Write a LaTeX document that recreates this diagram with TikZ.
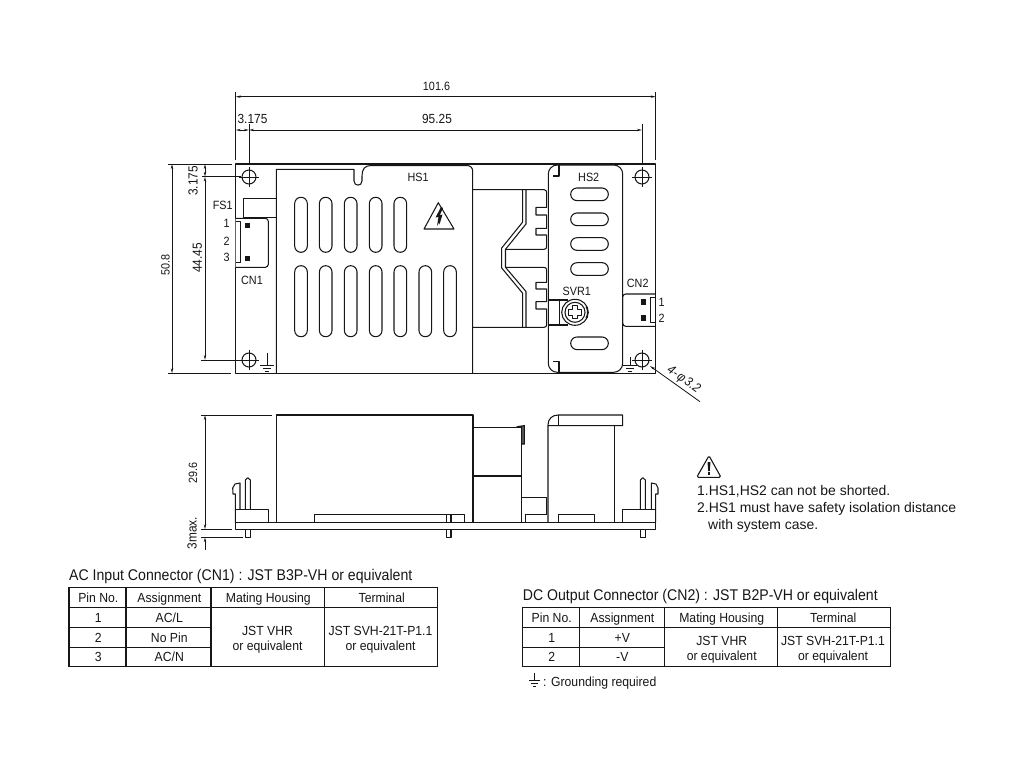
\documentclass[tikz,border=0pt]{standalone}
\usepackage{fontspec}
\setmainfont{Liberation Sans}
\newfontfamily\nar[FakeStretch=0.9]{Liberation Sans}
\newfontfamily\cellf[FakeStretch=0.925]{Liberation Sans}
\newfontfamily\wide[FakeStretch=0.91]{Liberation Sans}
\usetikzlibrary{arrows.meta}
\definecolor{ink}{HTML}{161616}
\tikzset{
  part/.style={draw=ink,line width=1.05pt,line join=round},
  thin part/.style={draw=ink,line width=0.85pt},
  dim/.style={draw=ink,line width=0.8pt},
  dimarrow/.style={dim,{Stealth[length=5pt,width=2.4pt]}-{Stealth[length=5pt,width=2.4pt]}},
  leader/.style={dim,{Stealth[length=5pt,width=2.4pt]}-},
  lab/.style={inner sep=0pt,text=ink,font=\nar\fontsize{12}{14}\selectfont},
  biglab/.style={lab,font=\nar\fontsize{13.2}{15}\selectfont},
  cell/.style={inner sep=0pt,text=ink,text height=9.5pt,text depth=0pt,font=\cellf\fontsize{13.2}{15}\selectfont},
  multicell/.style={inner sep=0pt,text=ink,align=center,font=\cellf\fontsize{13.2}{14.8}\selectfont},
  tabletitle/.style={inner sep=0pt,anchor=west,text=ink,font=\wide\fontsize{15.5}{17}\selectfont},
  note/.style={inner sep=0pt,anchor=west,text=ink,font=\fontsize{13.95}{16}\selectfont},
  grid/.style={draw=ink,line width=1.05pt},
  pinsq/.style={fill=ink,draw=none},
}
\newcommand\vslot[3]{\draw[part,rounded corners=6.2pt] (#1-6.3,#2) rectangle (#1+6.3,#3);}
\newcommand\hslot[1]{\draw[part,rounded corners=6.2pt] (570.7,#1-6.3) rectangle (608.3,#1+6.3);}
\newcommand\hole[2]{%
  \draw[part] (#1,#2) circle (7);
  \draw[thin part] (#1-10,#2) -- (#1+10,#2) (#1,#2-10) -- (#1,#2+10);
}
\newcommand\earth[4]{% x, top, bar y, half width
  \draw[thin part] (#1,#2) -- (#1,#3);
  \draw[thin part] (#1-#4,#3) -- (#1+#4,#3);
  \draw[thin part] (#1-#4*0.6,#3+3) -- (#1+#4*0.6,#3+3);
  \draw[thin part] (#1-#4*0.3,#3+6) -- (#1+#4*0.3,#3+6);
}
\newcommand\pinbox[2]{\fill[pinsq] (#1-2.6,#2-2.6) rectangle (#1+2.6,#2+2.6);}
\begin{document}
\begin{tikzpicture}[x=1pt,y=-1pt]
\useasboundingbox (0,0) rectangle (1024,768);
% ---------- top view: board
\draw[part] (235.7,164) rectangle (655.7,373.3);
\draw[draw=ink,line width=1.5pt] (598,373.3) -- (655.7,373.3);
\draw[draw=ink,line width=1.4pt] (276.3,373.3) -- (472.7,373.3);
% holes
\hole{249}{177}\hole{249}{360}\hole{642}{177}\hole{642}{360}
\earth{267}{352.7}{365}{7}
\earth{630}{357.3}{365}{7}
% HS1
\draw[part] (276.3,373.3) -- (276.3,169.3) -- (354,169.3) -- (354,181)
  .. controls (354,186.5) and (362,186.5) .. (362,181) -- (362,176)
  .. controls (362,169) and (365,165.5) .. (371,165.5) -- (466.7,165.5)
  .. controls (470.5,165.5) and (472.7,167.7) .. (472.7,171.5) -- (472.7,373.3);
\foreach \cx in {301,325.7,350.7,375.7,400.3} {\vslot{\cx}{197.3}{252.3}}
\foreach \cx in {301,325.7,350.7,375.7,400.3,425.3,450} {\vslot{\cx}{265.7}{336.7}}
% warning triangle
\draw[part] (438.3,202.7) -- (454,229) -- (424,229) -- cycle;
\fill[ink] (441,207) -- (435.5,217.5) -- (438.5,217) -- (437,226) -- (439,222.5) -- (439.5,224.5) -- (442.5,214.5) -- (439.8,215.2) -- (443,208) -- cycle;
% FS1 + CN1
\draw[part] (276.3,198.3) -- (243.3,198.3) -- (243.3,217.3) -- (276.3,217.3);
\draw[part,rounded corners=3pt,fill=white] (235.7,218.3) -- (268.3,218.3) -- (268.3,267.3) -- (235.7,267.3);
\draw[part] (235.7,221.7) -- (240.7,221.7) -- (240.7,262.7) -- (235.7,262.7);
\pinbox{247.7}{225.7}\pinbox{247.7}{258.7}
% heatsink bridge
\draw[part] (472.7,189.7) -- (544,189.7) .. controls (546,189.7) and (546.7,191) .. (546.7,193)
  -- (546.7,207.3) -- (536,207.3) -- (536,215) -- (546.7,215) -- (546.7,228.3) -- (536,228.3)
  -- (536,235) -- (546.7,235) -- (546.7,246) .. controls (546.7,248.5) and (546,249.3) .. (544,249.3) -- (505.5,249.3);
\draw[part] (505.5,267.3) -- (544,267.3) .. controls (546,267.3) and (546.7,268.5) .. (546.7,270.5)
  -- (546.7,282.3) -- (536,282.3) -- (536,289) -- (546.7,289) -- (546.7,301.7) -- (536,301.7)
  -- (536,309) -- (546.7,309) -- (546.7,324) .. controls (546.7,326.5) and (546,327.3) .. (544,327.3) -- (472.7,327.3);
\draw[part] (522.7,189.7) -- (522.7,222) -- (501.7,248) -- (501.7,268) -- (522.7,293.3) -- (522.7,327.3);
\draw[part] (526,189.7) -- (526,224) -- (505.5,249.3) -- (505.5,267.3) -- (526,291.5) -- (526,327.3);
% HS2
\draw[part,rounded corners=9pt,fill=white] (548.3,165) rectangle (622.7,372.3);
\draw[part] (553,176) -- (559,176) -- (559,165);
\draw[part] (553,361.7) -- (559,361.7) -- (559,372.3);
\foreach \cy in {194.3,219.3,244,269,343.3} {\hslot{\cy}}
% SVR1
\draw[part] (548.3,300) -- (568,300);
\draw[part] (548.3,325) -- (568,325);
\draw[part] (559.3,300) -- (559.3,325);
\draw[part,fill=white] (575,312.3) ellipse (13.3 and 13);
\draw[part] (575,312.3) circle (10);
\draw[part] (586,306.5) arc[start angle=-30,end angle=30,radius=11.5];
\draw[part] (572.2,305.8) -- (577.8,305.8) -- (577.8,309.5) -- (581.5,309.5) -- (581.5,315.1)
  -- (577.8,315.1) -- (577.8,318.8) -- (572.2,318.8) -- (572.2,315.1) -- (568.5,315.1)
  -- (568.5,309.5) -- (572.2,309.5) -- cycle;
% CN2
\draw[part,rounded corners=3pt] (655.7,294) -- (622.7,294) -- (622.7,326.3) -- (655.7,326.3);
\draw[part] (655.7,297.3) -- (650.3,297.3) -- (650.3,322.3) -- (655.7,322.3);
\pinbox{643.3}{302}\pinbox{643.3}{318}
% ---------- top view dimensions
\coordinate (boardL) at (235.7,92);
\coordinate (boardLb) at (235.7,160);
\coordinate (boardR) at (655.7,92);
\coordinate (boardRb) at (655.7,160);
\coordinate (holeL) at (249,124);
\coordinate (holeLb) at (249,164);
\coordinate (holeR) at (642,124);
\coordinate (holeRb) at (642,164);
\draw[dim] (boardL) -- (boardLb);
\draw[dim] (boardR) -- (boardRb);
\draw[dim] (holeL) -- (holeLb);
\draw[dim] (holeR) -- (holeRb);
\draw[dimarrow] (235.7,96.7) -- (655.7,96.7);
\draw[dimarrow] (235.7,130) -- (249,130);
\draw[dimarrow] (249,130) -- (642,130);
\node[lab] (d1016) at (436.5,86) {101.6};
\node[biglab] (d9525) at (437,118.5) {95.25};
\node[biglab] (d3175h) at (252.5,118.5) {3.175};
\draw[dim] (168,164) -- (232,164);
\draw[dim] (168,373.3) -- (231,373.3);
\draw[dim] (202,176.7) -- (241,176.7);
\draw[dim] (201,360) -- (241,360);
\draw[dimarrow] (172,164) -- (172,373.3);
\draw[dimarrow] (205,164) -- (205,176.7);
\draw[dimarrow] (205,176.7) -- (205,360);
\node[lab,rotate=90] (d508) at (165.5,265) {50.8};
\node[biglab,rotate=90] (d4445) at (197.5,258) {44.45};
\node[biglab,rotate=90] (d3175v) at (193,181) {3.175};
% leader
\coordinate (leadA) at (650,366);
\coordinate (leadB) at (700,401.7);
\draw[leader] (leadA) -- (leadB);
\node[lab,rotate=-35.5,font=\nar\itshape\fontsize{13}{14}\selectfont] (dia) at (683.5,380) {4-\kern1.5ptφ\kern1.5pt3.2};
% part labels
\node[lab] (fs1) at (222.7,205.7) {FS1};
\node[lab] (cn1) at (252,280) {CN1};
\node[lab] (p1) at (226.7,223.5) {1};
\node[lab] (p2) at (226.7,241.5) {2};
\node[lab] (p3) at (226.7,257.5) {3};
\node[lab] (hs1) at (418,177.7) {HS1};
\node[lab] (hs2) at (588.7,177.7) {HS2};
\node[lab] (svr1) at (576.7,291.7) {SVR1};
\node[lab] (cn2) at (637.7,283) {CN2};
\node[lab] (q1) at (661.7,302.7) {1};
\node[lab] (q2) at (661.7,318.7) {2};
% ---------- side view
\draw[part] (235.3,522.7) rectangle (655.7,529.3);
% HS1 body
\draw[part] (276.7,522.7) -- (276.7,415) -- (473,415) -- (473,522.7);
\draw[part] (314.3,522.7) -- (314.3,514.3) -- (464.7,514.3) -- (464.7,522.7);
\draw[part] (446.7,514.3) -- (446.7,522.7) (451,514.3) -- (451,522.7);
\draw[part] (446.7,529.3) -- (446.7,537.3) -- (451,537.3) -- (451,529.3);
% middle
\draw[part] (473,427.7) -- (521.7,427.7) -- (521.7,522.7);
\draw[part] (473,476) -- (521.7,476);
\draw[draw=ink,line width=1.2pt,fill=ink!60] (518.5,426.5) -- (524.3,425.7) -- (524.3,444) -- (521.7,444) -- (521.7,427.7) -- cycle;
\draw[part] (521.7,497.7) -- (546.7,497.7) -- (546.7,514.3);
\draw[part] (525.3,522.7) -- (525.3,514.3) -- (546.7,514.3);
% HS2 side
\draw[part] (548,522.7) -- (548,425) .. controls (548,419) and (552,415) .. (558.3,415) -- (622.7,415) -- (622.7,425.7) -- (548,425.7);
\draw[part] (558.3,415) -- (558.3,425.7);
\draw[part] (614.3,425.7) -- (614.3,522.7);
\draw[part] (558.7,522.7) -- (558.7,514.3) -- (594.7,514.3) -- (594.7,522.7);
% left connector
\draw[part] (235.3,522.7) -- (235.3,494) -- (233,494) -- (232.7,488) -- (235,484) -- (240,483) -- (240,509.3);
\draw[part] (235.3,509.3) -- (268.7,509.3) -- (268.7,522.7);
\draw[part] (245.3,509.3) -- (245.3,480) -- (247.8,477.7) -- (250.3,480) -- (250.3,509.3);
\draw[part] (245.3,529.3) -- (245.3,537.3) -- (250.3,537.3) -- (250.3,529.3);
% right connector
\draw[part] (655.7,522.7) -- (655.7,494) -- (658,494) -- (658,488) -- (656,484) -- (651.3,483) -- (651.3,509.3);
\draw[part] (655.7,509.3) -- (622.7,509.3) -- (622.7,522.7);
\draw[part] (640.3,509.3) -- (640.3,480) -- (642.8,477.7) -- (645.3,480) -- (645.3,509.3);
\draw[part] (640.3,529.3) -- (640.3,537.3) -- (645.3,537.3) -- (645.3,529.3);
% side dimensions
\draw[dim] (201,415) -- (271.7,415);
\draw[dim] (201,529.3) -- (231.7,529.3);
\draw[dim] (201,537.3) -- (242.7,537.3);
\draw[dimarrow] (205,415) -- (205,529.3);
\draw[dim,{Stealth[length=5pt,width=2.4pt]}-] (205,537.3) -- (205,550);
\node[lab,rotate=90] (d296) at (193,473) {29.6};
\node[biglab,rotate=90] (d3max) at (192,533) {3max.};
% ---------- notes
\draw[part,rounded corners=1.5pt,line width=1.1pt] (709,455.7) -- (721,477.3) -- (696.7,477.3) -- cycle;
\fill[ink] (707.5,462) -- (710.5,462) -- (709.8,471) -- (708.2,471) -- cycle;
\fill[ink] (707.8,472.3) rectangle (710.2,474.8);
\node[note] (n1) at (697,491.7) {1.HS1,HS2 can not be shorted.};
\node[note] (n2) at (697,509) {2.HS1 must have safety isolation distance};
\node[note] (n3) at (708,526) {with system case.};
% ---------- table 1
\node[tabletitle] (t1title) at (69,576.5) {AC Input Connector (CN1) : JST B3P-VH or equivalent};
\draw[grid] (69,587.7) rectangle (437.7,666.7);
\draw[grid] (126,587.7) -- (126,666.7) (211,587.7) -- (211,666.7) (324.3,587.7) -- (324.3,666.7);
\draw[grid] (69,607.3) -- (437.7,607.3);
\draw[grid] (69,627.3) -- (211,627.3) (69,647.3) -- (211,647.3);
\node[cell] (a1) at (98.3,597.7) {Pin No.};
\node[cell] (a2) at (169.3,597.7) {Assignment};
\node[cell] (a3) at (268.3,597.7) {Mating Housing};
\node[cell] (a4) at (381.7,597.7) {Terminal};
\node[cell] (a5) at (98.3,617.3) {1};
\node[cell] (a6) at (169.3,617.3) {AC/L};
\node[cell] (a7) at (98.3,637.3) {2};
\node[cell] (a8) at (169.3,637.3) {No Pin};
\node[cell] (a9) at (98.3,656.7) {3};
\node[cell] (a10) at (169.3,656.7) {AC/N};
\node[multicell] (a11) at (267.5,639.5) {JST VHR\\or equivalent};
\node[multicell] (a12) at (380.5,639.5) {JST SVH-21T-P1.1\\or equivalent};
% ---------- table 2
\node[tabletitle] (t2title) at (522.7,596.5) {DC Output Connector (CN2) : JST B2P-VH or equivalent};
\draw[grid] (522.7,607.7) rectangle (890.3,666.7);
\draw[grid] (579.3,607.7) -- (579.3,666.7) (664.3,607.7) -- (664.3,666.7) (777.7,607.7) -- (777.7,666.7);
\draw[grid] (522.7,627.3) -- (890.3,627.3);
\draw[grid] (522.7,647.3) -- (664.3,647.3);
\node[cell] (b1) at (551.7,617.7) {Pin No.};
\node[cell] (b2) at (622.3,617.7) {Assignment};
\node[cell] (b3) at (721.7,617.7) {Mating Housing};
\node[cell] (b4) at (833.3,617.7) {Terminal};
\node[cell] (b5) at (551.7,637.3) {1};
\node[cell] (b6) at (622.3,637.3) {+V};
\node[cell] (b7) at (551.7,656.5) {2};
\node[cell] (b8) at (622.3,656.5) {-V};
\node[multicell] (b9) at (721.7,649.5) {JST VHR\\or equivalent};
\node[multicell] (b10) at (833,649.5) {JST SVH-21T-P1.1\\or equivalent};
% grounding note
\earth{534.5}{672.7}{680}{5.5}
\node[cell,anchor=west,text height=9.5pt] (gnd) at (543,681.7) {: Grounding required};
\end{tikzpicture}
\end{document}
